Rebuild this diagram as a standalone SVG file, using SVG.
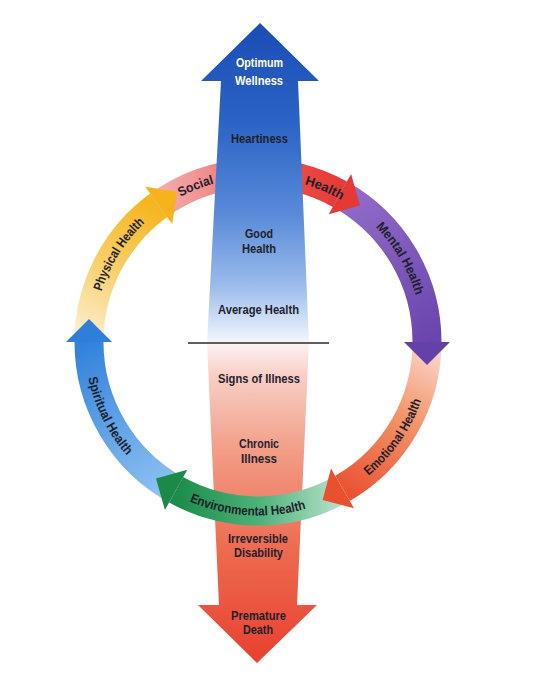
<svg xmlns="http://www.w3.org/2000/svg" width="543" height="682" viewBox="0 0 543 682">
<style>
.band{fill:none;stroke-width:29;stroke-linecap:butt}
.t{font-family:"Liberation Sans",Arial,sans-serif;font-weight:bold;font-size:13px;fill:#1e1f2c;text-anchor:middle}
.w{fill:#ffffff}
</style>
<defs>
<linearGradient id="gTop" gradientUnits="userSpaceOnUse" x1="0" y1="23" x2="0" y2="343">
<stop offset="0" stop-color="#1b4db4"/><stop offset="0.3" stop-color="#2a62c5"/><stop offset="0.6" stop-color="#5a8bd9"/><stop offset="0.82" stop-color="#9bbbea"/><stop offset="0.95" stop-color="#dbe7f8"/><stop offset="1" stop-color="#f4f7fd"/>
</linearGradient>
<linearGradient id="gBot" gradientUnits="userSpaceOnUse" x1="0" y1="343" x2="0" y2="663">
<stop offset="0" stop-color="#fdf3f3"/><stop offset="0.1" stop-color="#f8cfc6"/><stop offset="0.35" stop-color="#f29a84"/><stop offset="0.65" stop-color="#ed6a4f"/><stop offset="1" stop-color="#e8402f"/>
</linearGradient>
<linearGradient id="gSoc" gradientUnits="userSpaceOnUse" x1="150" y1="210" x2="340" y2="194">
<stop offset="0" stop-color="#f6b3b0"/><stop offset="0.3" stop-color="#f09090"/><stop offset="0.6" stop-color="#ea5a52"/><stop offset="1" stop-color="#e63b36"/>
</linearGradient>
<linearGradient id="gMen" gradientUnits="userSpaceOnUse" x1="330" y1="190" x2="427" y2="342">
<stop offset="0" stop-color="#946fcb"/><stop offset="1" stop-color="#6a45ad"/>
</linearGradient>
<linearGradient id="gEmo" gradientUnits="userSpaceOnUse" x1="427" y1="340" x2="342" y2="490">
<stop offset="0" stop-color="#fbd9cf"/><stop offset="0.45" stop-color="#f3956a"/><stop offset="1" stop-color="#ea5231"/>
</linearGradient>
<linearGradient id="gEnv" gradientUnits="userSpaceOnUse" x1="342" y1="488" x2="176" y2="490">
<stop offset="0" stop-color="#b9e2cb"/><stop offset="0.5" stop-color="#4db27a"/><stop offset="1" stop-color="#1c8c4a"/>
</linearGradient>
<linearGradient id="gSpi" gradientUnits="userSpaceOnUse" x1="176" y1="490" x2="89" y2="342">
<stop offset="0" stop-color="#90c3f1"/><stop offset="1" stop-color="#3282dc"/>
</linearGradient>
<linearGradient id="gPhy" gradientUnits="userSpaceOnUse" x1="89" y1="342" x2="158" y2="205">
<stop offset="0" stop-color="#fcefd0"/><stop offset="0.5" stop-color="#f9cf6a"/><stop offset="1" stop-color="#f6b41e"/>
</linearGradient>
<path id="pSoc" d="M138.1,229.4 A164.5,164.5 0 0 1 267.2,177.8"/>
<path id="pHea" d="M253.4,177.6 A164.5,164.5 0 0 1 381.0,232.8"/>
<path id="pMen" d="M351.4,206.6 A164.5,164.5 0 0 1 421.8,326.5"/>
<path id="pPhy" d="M94.8,321.4 A164.5,164.5 0 0 1 168.9,203.7"/>
<path id="pEmo" d="M344.5,492.4 A173.5,173.5 0 0 0 428.8,372.4"/>
<path id="pEnv" d="M174.9,494.3 A173.5,173.5 0 0 0 321.3,503.5"/>
<path id="pSpi" d="M84.6,346.2 A173.5,173.5 0 0 0 149.8,477.6"/>
</defs>

<g id="connectors">
<path id="band-social-health" class="band" stroke="url(#gSoc)" d="M158.7,205.3 A169,169 0 0 1 339.9,194.2"/>
</g>

<g id="wellness-arrow">
<polygon fill="url(#gTop)" points="260,23 319,81 298,81 309,343 207,343 221,81 201,81"/>
</g>
<g id="illness-arrow">
<polygon fill="url(#gBot)" points="207,343 309,343 297,605 317,605 257,663 198,605 219,605"/>
</g>

<g id="ring">
<path id="band-mental" class="band" stroke="url(#gMen)" d="M339.9,194.2 A169,169 0 0 1 427,342"/>
<path id="band-emotional" class="band" stroke="url(#gEmo)" d="M427,342 A169,169 0 0 1 342.5,488.4"/>
<path id="band-environmental" class="band" stroke="url(#gEnv)" d="M342.5,488.4 A169,169 0 0 1 176.1,489.8"/>
<path id="band-spiritual" class="band" stroke="url(#gSpi)" d="M176.1,489.8 A169,169 0 0 1 89,342"/>
<path id="band-physical" class="band" stroke="url(#gPhy)" d="M89,342 A169,169 0 0 1 158.7,205.3"/>
<polygon id="head-physical" fill="#f6b31c" points="145.2,186.7 177.3,191.8 172.2,223.9"/>
<polygon id="head-health" fill="#e53935" points="351.1,174.1 360,205.4 328.7,214.3"/>
<polygon id="head-mental" fill="#6441a8" points="450,342 427,365 404,342"/>
<polygon id="head-emotional" fill="#e9502f" points="354,508.3 322.6,499.9 331,468.5"/>
<polygon id="head-environmental" fill="#1b8a48" points="164.9,509.9 156,478.6 187.3,469.7"/>
<polygon id="head-spiritual" fill="#2f7fd9" points="66,342 89,319 112,342"/>
</g>

<line x1="188" y1="343" x2="329" y2="343" stroke="#2a2a2a" stroke-width="1.6"/>

<g id="center-labels">
<text class="t w" x="259.5" y="67" font-size="13.5" textLength="47" lengthAdjust="spacingAndGlyphs">Optimum</text>
<text class="t w" x="259" y="85" font-size="13.5" textLength="48" lengthAdjust="spacingAndGlyphs">Wellness</text>
<text class="t" x="259.5" y="143" textLength="57" lengthAdjust="spacingAndGlyphs">Heartiness</text>
<text class="t" x="259" y="238" textLength="28" lengthAdjust="spacingAndGlyphs">Good</text>
<text class="t" x="259" y="253" textLength="34" lengthAdjust="spacingAndGlyphs">Health</text>
<text class="t" x="258.5" y="314" textLength="81" lengthAdjust="spacingAndGlyphs">Average Health</text>
<text class="t" x="259" y="383" textLength="82" lengthAdjust="spacingAndGlyphs">Signs of Illness</text>
<text class="t" x="259" y="448" textLength="40" lengthAdjust="spacingAndGlyphs">Chronic</text>
<text class="t" x="259" y="463" textLength="36" lengthAdjust="spacingAndGlyphs">Illness</text>
<text class="t" x="258" y="543" textLength="60" lengthAdjust="spacingAndGlyphs">Irreversible</text>
<text class="t" x="258.5" y="557" textLength="49" lengthAdjust="spacingAndGlyphs">Disability</text>
<text class="t" x="258.5" y="620" textLength="55" lengthAdjust="spacingAndGlyphs">Premature</text>
<text class="t" x="258" y="634" textLength="30" lengthAdjust="spacingAndGlyphs">Death</text>
</g>

<g id="ring-labels">
<text class="t"><textPath href="#pSoc" startOffset="50%" textLength="36" lengthAdjust="spacingAndGlyphs">Social</textPath></text>
<text class="t"><textPath href="#pHea" startOffset="50%" textLength="40" lengthAdjust="spacingAndGlyphs">Health</textPath></text>
<text class="t"><textPath href="#pMen" startOffset="50%" textLength="80" lengthAdjust="spacingAndGlyphs">Mental Health</textPath></text>
<text class="t"><textPath href="#pPhy" startOffset="50%" textLength="82" lengthAdjust="spacingAndGlyphs">Physical Health</textPath></text>
<text class="t"><textPath href="#pEmo" startOffset="50%" textLength="93" lengthAdjust="spacingAndGlyphs">Emotional Health</textPath></text>
<text class="t"><textPath href="#pEnv" startOffset="50%" textLength="119" lengthAdjust="spacingAndGlyphs">Environmental Health</textPath></text>
<text class="t"><textPath href="#pSpi" startOffset="50%" textLength="88" lengthAdjust="spacingAndGlyphs">Spiritual Health</textPath></text>
</g>
</svg>
